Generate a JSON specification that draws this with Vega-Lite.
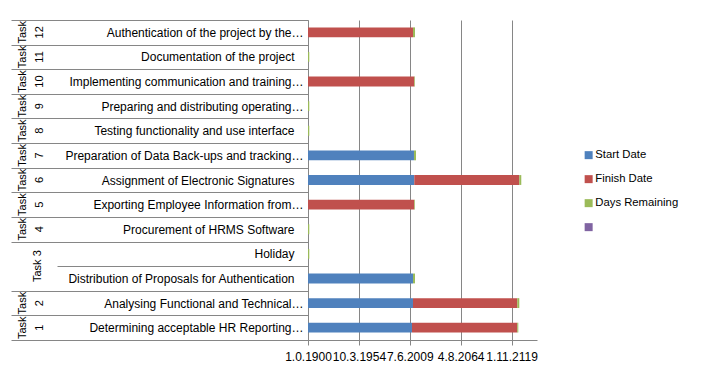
{
  "$schema": "https://vega.github.io/schema/vega-lite/v6.json",
  "width": 229,
  "height": 320,
  "autosize": "none",
  "padding": {"left": 308, "top": 20, "right": 166, "bottom": 42},
  "background": "white",
  "config": {"view": {"stroke": null}, "font": "Liberation Sans"},
  "data": {
    "values": [
      {"row": "Task 12|Authentication of the project by the…", "Start Date": 0, "Finish Date": 41260, "Days Remaining": 790},
      {"row": "Task 11|Documentation of the project", "Start Date": 0, "Finish Date": 0, "Days Remaining": 500},
      {"row": "Task 10|Implementing communication and training…", "Start Date": 0, "Finish Date": 41770, "Days Remaining": 260},
      {"row": "Task 9|Preparing and distributing operating…", "Start Date": 0, "Finish Date": 0, "Days Remaining": 500},
      {"row": "Task 8|Testing functionality and use interface", "Start Date": 0, "Finish Date": 0, "Days Remaining": 500},
      {"row": "Task 7|Preparation of Data Back-ups and tracking…", "Start Date": 41650, "Finish Date": 0, "Days Remaining": 790},
      {"row": "Task 6|Assignment of Electronic Signatures", "Start Date": 41770, "Finish Date": 41260, "Days Remaining": 790},
      {"row": "Task 5|Exporting Employee Information from…", "Start Date": 0, "Finish Date": 41770, "Days Remaining": 260},
      {"row": "Task 4|Procurement of HRMS Software", "Start Date": 0, "Finish Date": 0, "Days Remaining": 500},
      {"row": "Task 3|Holiday", "Start Date": 0, "Finish Date": 0, "Days Remaining": 500},
      {"row": "Task 3|Distribution of Proposals for Authentication", "Start Date": 41260, "Finish Date": 0, "Days Remaining": 790},
      {"row": "Task 2|Analysing Functional and Technical…", "Start Date": 41260, "Finish Date": 40990, "Days Remaining": 790},
      {"row": "Task 1|Determining acceptable HR Reporting…", "Start Date": 40870, "Finish Date": 41380, "Days Remaining": 400}
    ]
  },
  "layer": [
    {
      "transform": [{"fold": ["Start Date", "Finish Date", "Days Remaining"], "as": ["series", "value"]}],
      "mark": {"type": "bar", "height": {"band": 0.4}},
      "encoding": {
        "y": {
          "field": "row",
          "type": "nominal",
          "sort": null,
          "scale": {"paddingInner": 0, "paddingOuter": 0},
          "axis": {
            "title": null,
            "orient": "left",
            "domain": true,
            "domainColor": "#868686",
            "ticks": true,
            "tickBand": "extent",
            "tickColor": "#868686",
            "tickSize": {"condition": {"test": "datum.value === 'Task 3|Holiday'", "value": 251}, "value": 297},
            "labelPadding": {"condition": [{"test": "datum.value === 'Task 3|Holiday'", "value": -237}, {"test": "isString(datum.value) && indexof(datum.value, '…') >= 0", "value": -292}], "value": -283},
            "labelExpr": "isString(datum.value) ? split(datum.value, '|')[1] : ''",
            "labelFont": "Liberation Sans",
            "labelFontSize": 12,
            "labelColor": "#000000",
            "labelLimit": 400,
            "labelOverlap": false,
            "grid": false
          }
        },
        "x": {
          "field": "value",
          "type": "quantitative",
          "stack": "zero",
          "scale": {"domain": [0, 90000], "nice": false, "zero": true},
          "axis": {
            "title": null,
            "values": [0, 20000, 40000, 60000, 80000],
            "grid": true,
            "gridColor": "#868686",
            "gridWidth": 1,
            "domainColor": "#868686",
            "tickColor": "#868686",
            "tickSize": 5,
            "labelFont": "Liberation Sans",
            "labelFontSize": 12,
            "labelColor": "#000000",
            "labelPadding": 6,
            "labelOverlap": false,
            "labelFlush": false,
            "labelExpr": "datum.value == 0 ? '1.0.1900' : timeFormat(datetime(1899, 11, 30 + datum.value), '%-m.%-d.%Y')"
          }
        },
        "color": {
          "field": "series",
          "type": "nominal",
          "scale": {
            "domain": ["Start Date", "Finish Date", "Days Remaining", ""],
            "range": ["#4F81BD", "#C0504D", "#9BBB59", "#8064A2"]
          },
          "legend": {
            "title": null,
            "orient": "none",
            "legendX": 275,
            "legendY": 129.5,
            "padding": 0,
            "symbolType": "square",
            "symbolSize": 64,
            "symbolStrokeWidth": 0,
            "labelFont": "Liberation Sans",
            "labelFontSize": 11.3,
            "labelColor": "#000000",
            "labelOffset": 1,
            "rowPadding": 12
          }
        },
        "order": {"field": "series", "sort": "descending"}
      }
    },
    {
      "mark": {"type": "point", "opacity": 0},
      "encoding": {
        "y": {
          "field": "row",
          "type": "nominal",
          "sort": null,
          "axis": {
            "title": null,
            "orient": "left",
            "domain": false,
            "ticks": false,
            "grid": false,
            "labelAngle": 270,
            "labelAlign": "center",
            "labelBaseline": "bottom",
            "labelPadding": {"condition": {"test": "isString(datum.value) && indexof(datum.value, 'Task 3|') == 0", "value": 265.5}, "value": 280.5},
            "labelFont": "Liberation Sans",
            "labelFontSize": 11,
            "labelColor": "#000000",
            "labelLineHeight": 17,
            "labelOverlap": false,
            "labelLimit": 200,
            "labelOffset": {"condition": {"test": "datum.value === 'Task 3|Holiday'", "value": 12.3}, "value": 0},
            "labelExpr": "!isString(datum.value) ? '' : indexof(datum.value, 'Task 3|') == 0 ? (indexof(datum.value, 'Holiday') > 0 ? 'Task 3' : '') : split(split(datum.value, '|')[0], ' ')"
          }
        }
      }
    }
  ],
  "resolve": {"axis": {"y": "independent"}}
}
